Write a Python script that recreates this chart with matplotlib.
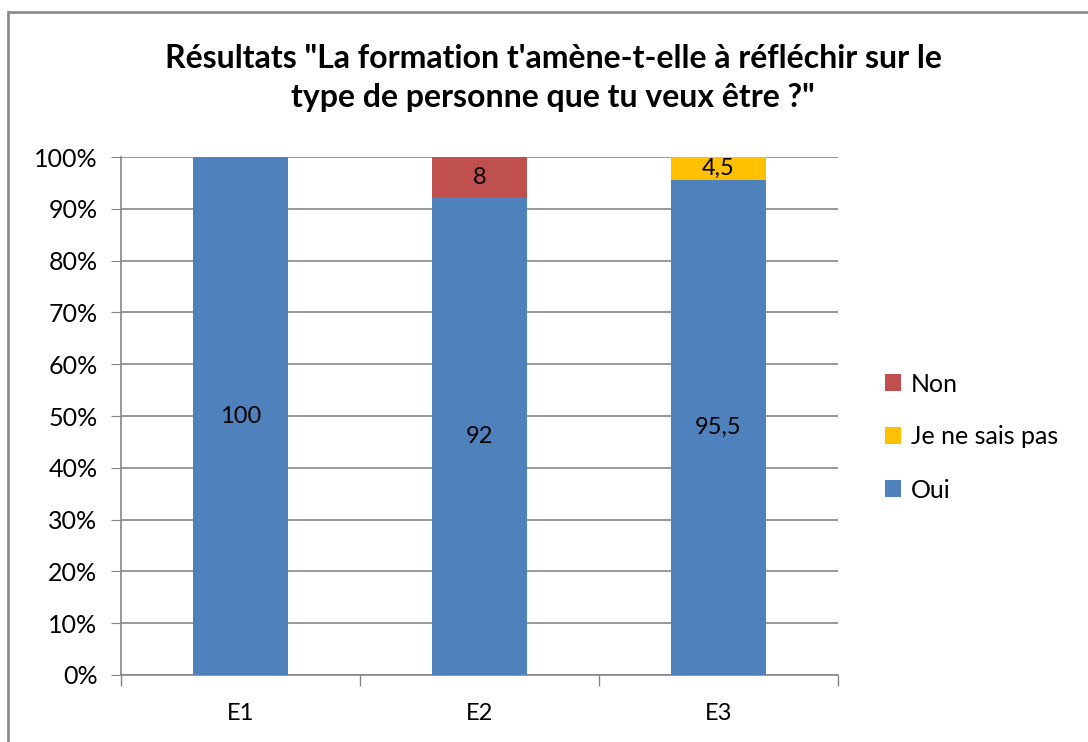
import matplotlib
matplotlib.use("Agg")
import matplotlib.pyplot as plt
from matplotlib.patches import Rectangle
from matplotlib.ticker import FuncFormatter

plt.rcParams['font.family'] = ['Lato', 'DejaVu Sans']

categories = ["E1", "E2", "E3"]
oui = [100, 92, 95.5]
jnsp = [0, 0, 4.5]
non = [0, 8, 0]
oui_labels = ["100", "92", "95,5"]
jnsp_labels = ["", "", "4,5"]
non_labels = ["", "8", ""]
yticks = [0, 10, 20, 30, 40, 50, 60, 70, 80, 90, 100]

c_oui = "#4F81BD"
c_jnsp = "#FFC000"
c_non = "#C0504D"
grid_c = "#868686"

fig = plt.figure(figsize=(10.88, 7.42), dpi=100)
fig.patch.set_facecolor("white")
# outer chart border
fig.add_artist(Rectangle((8/1088, -0.05), 1.2, (742-12)/742 + 0.05, transform=fig.transFigure,
                         fill=False, edgecolor="#8C8C8C", linewidth=2))

ax = fig.add_axes([121/1088, 67/742, 717/1088, 518/742])
x = list(range(len(categories)))
w = 0.4
b1 = ax.bar(x, oui, w, color=c_oui, label="Oui", zorder=3)
b2 = ax.bar(x, jnsp, w, bottom=oui, color=c_jnsp, label="Je ne sais pas", zorder=3)
bottom3 = [a + b for a, b in zip(oui, jnsp)]
b3 = ax.bar(x, non, w, bottom=bottom3, color=c_non, label="Non", zorder=3)

ax.bar_label(b1, labels=oui_labels, label_type="center", fontsize=17, color="black")
ax.bar_label(b2, labels=jnsp_labels, label_type="center", fontsize=17, color="black")
ax.bar_label(b3, labels=non_labels, label_type="center", fontsize=17, color="black")

ax.set_xlim(-0.5, len(categories) - 0.5)
ax.set_ylim(0, 100)
ax.set_yticks(yticks)
ax.yaxis.set_major_formatter(FuncFormatter(lambda v, p: f"{int(v)}%"))
ax.set_xticks(x)
ax.set_xticklabels(categories)
ax.set_xticks([i - 0.5 for i in range(len(categories) + 1)], minor=True)
ax.tick_params(axis="x", which="major", length=0, pad=20, labelsize=17)
ax.tick_params(axis="x", which="minor", length=8, color=grid_c, width=1)
ax.tick_params(axis="y", length=7, color=grid_c, labelsize=18, pad=10)
ax.yaxis.grid(True, color=grid_c, linewidth=1.2, zorder=0)
ax.set_axisbelow(True)
for s in ["top", "right"]:
    ax.spines[s].set_visible(False)
for s in ["left", "bottom"]:
    ax.spines[s].set_color(grid_c)
    ax.spines[s].set_linewidth(1.2)

handles = [b3, b2, b1]
leg = fig.legend(handles, ["Non", "Je ne sais pas", "Oui"], loc="center left",
                 bbox_to_anchor=(862/1088, 1 - 437/742), frameon=False, fontsize=18,
                 handlelength=0.65, handleheight=0.65, handletextpad=0.4, labelspacing=1.2)

fig.text(553/1088, 1 - 78/742,
         "Résultats \"La formation t'amène-t-elle à réfléchir sur le\ntype de personne que tu veux être ?\"",
         ha="center", va="center", fontsize=23, fontweight="bold", linespacing=1.4)

fig.savefig("out.png", dpi=100, facecolor="white")
